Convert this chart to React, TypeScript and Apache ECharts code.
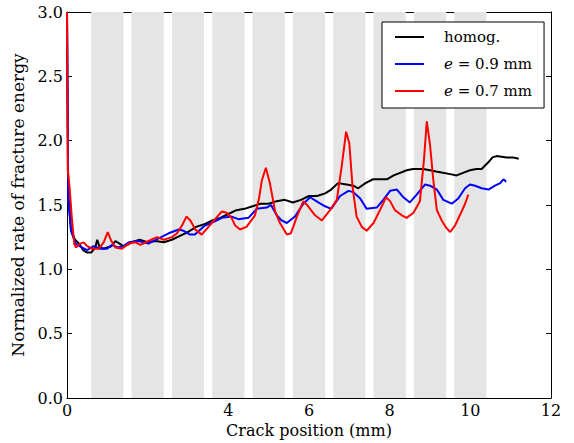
import React, { useEffect, useRef } from "react";
import * as echarts from "echarts";

const seriesNames = ["homog.", "e = 0.9 mm", "e = 0.7 mm"];
const xTitle = "Crack position (mm)";
const yTitle = "Normalized rate of fracture energy";

const homogX = [0, 0.03, 0.1, 0.2, 0.3, 0.4, 0.5, 0.6, 0.7, 0.75, 0.8, 0.9, 1.0, 1.1, 1.2, 1.3, 1.4, 1.5, 1.6, 1.8, 2.0, 2.2, 2.4, 2.6, 2.8, 3.0, 3.2, 3.4, 3.6, 3.8, 4.0, 4.2, 4.4, 4.6, 4.8, 5.0, 5.2, 5.4, 5.6, 5.8, 6.0, 6.2, 6.4, 6.55, 6.72, 6.93, 7.1, 7.22, 7.4, 7.59, 7.8, 7.93, 8.1, 8.26, 8.42, 8.58, 8.83, 9.0, 9.15, 9.32, 9.5, 9.66, 9.82, 9.99, 10.15, 10.28, 10.44, 10.55, 10.65, 10.9, 11.05, 11.2];
const homogY = [3.0, 1.6, 1.3, 1.23, 1.2, 1.15, 1.13, 1.13, 1.17, 1.23, 1.18, 1.16, 1.17, 1.18, 1.22, 1.2, 1.18, 1.19, 1.21, 1.23, 1.21, 1.22, 1.21, 1.23, 1.26, 1.29, 1.33, 1.35, 1.38, 1.4, 1.43, 1.46, 1.47, 1.49, 1.51, 1.51, 1.53, 1.54, 1.52, 1.54, 1.57, 1.57, 1.59, 1.62, 1.67, 1.66, 1.65, 1.63, 1.67, 1.7, 1.7, 1.7, 1.73, 1.75, 1.77, 1.78, 1.78, 1.77, 1.76, 1.75, 1.74, 1.73, 1.75, 1.77, 1.78, 1.78, 1.83, 1.87, 1.88, 1.87, 1.87, 1.86];

const e09X = [0, 0.03, 0.1, 0.21, 0.37, 0.5, 0.66, 0.83, 0.99, 1.12, 1.25, 1.4, 1.53, 1.78, 2.02, 2.27, 2.52, 2.77, 2.89, 3.05, 3.17, 3.42, 3.64, 3.84, 4.08, 4.25, 4.5, 4.7, 4.95, 5.06, 5.2, 5.32, 5.45, 5.65, 5.86, 6.03, 6.23, 6.4, 6.55, 6.77, 6.98, 7.1, 7.27, 7.43, 7.68, 7.84, 8.01, 8.18, 8.34, 8.5, 8.67, 8.88, 9.0, 9.17, 9.33, 9.54, 9.7, 9.87, 9.99, 10.12, 10.28, 10.45, 10.61, 10.74, 10.82, 10.89];
const e09Y = [3.0, 1.55, 1.3, 1.2, 1.17, 1.15, 1.18, 1.16, 1.16, 1.19, 1.17, 1.18, 1.21, 1.22, 1.2, 1.24, 1.28, 1.31, 1.3, 1.27, 1.27, 1.34, 1.37, 1.4, 1.41, 1.39, 1.4, 1.47, 1.48, 1.5, 1.42, 1.38, 1.36, 1.41, 1.51, 1.56, 1.52, 1.49, 1.47, 1.57, 1.61, 1.6, 1.55, 1.47, 1.48, 1.54, 1.61, 1.62, 1.56, 1.52, 1.58, 1.66, 1.65, 1.62, 1.54, 1.51, 1.55, 1.63, 1.66, 1.65, 1.63, 1.62, 1.65, 1.67, 1.7, 1.68];

const e07X = [0, 0.02, 0.06, 0.12, 0.18, 0.22, 0.33, 0.41, 0.5, 0.62, 0.79, 0.91, 1.01, 1.1, 1.2, 1.36, 1.53, 1.7, 1.82, 2.02, 2.23, 2.4, 2.6, 2.73, 2.85, 2.96, 3.06, 3.18, 3.34, 3.59, 3.84, 3.96, 4.08, 4.17, 4.29, 4.45, 4.66, 4.76, 4.83, 4.93, 5.03, 5.16, 5.28, 5.45, 5.55, 5.7, 5.86, 5.98, 6.15, 6.32, 6.52, 6.69, 6.81, 6.92, 7.0, 7.08, 7.18, 7.31, 7.43, 7.6, 7.76, 7.91, 8.01, 8.13, 8.3, 8.42, 8.59, 8.75, 8.85, 8.92, 9.0, 9.08, 9.17, 9.29, 9.41, 9.5, 9.62, 9.74, 9.87, 9.95];
const e07Y = [3.0, 1.77, 1.65, 1.4, 1.2, 1.17, 1.2, 1.21, 1.18, 1.16, 1.16, 1.21, 1.29, 1.22, 1.17, 1.16, 1.2, 1.21, 1.19, 1.22, 1.25, 1.23, 1.25, 1.28, 1.34, 1.41, 1.38, 1.31, 1.27, 1.36, 1.45, 1.44, 1.4, 1.34, 1.31, 1.33, 1.42, 1.55, 1.69, 1.79, 1.67, 1.45, 1.36, 1.27, 1.28, 1.41, 1.53, 1.49, 1.42, 1.38, 1.46, 1.54, 1.8, 2.07, 1.98, 1.64, 1.41, 1.33, 1.3, 1.36, 1.46, 1.56, 1.53, 1.46, 1.42, 1.4, 1.44, 1.53, 1.85, 2.15, 1.97, 1.7, 1.46, 1.38, 1.32, 1.29, 1.34, 1.42, 1.51, 1.58];

const bandStart = [0.6, 1.6, 2.6, 3.6, 4.6, 5.6, 6.6, 7.6, 8.6, 9.6];
const bandEnd = [1.4, 2.4, 3.4, 4.4, 5.4, 6.4, 7.4, 8.4, 9.4, 10.4];

const xTickValues = [0, 4, 6, 8, 10, 12];
const yTickValues = [0, 0.5, 1.0, 1.5, 2.0, 2.5, 3.0];

const FONT = "DejaVu Serif";

function zip(xs: number[], ys: number[]) {
  return xs.map((x, i) => [x, ys[i]]);
}

export default function App() {
  const ref = useRef<HTMLDivElement>(null);
  useEffect(() => {
    if (!ref.current) return;
    const chart = echarts.init(ref.current, undefined, { renderer: "svg" });
    const axisLine = { show: true, onZero: false, lineStyle: { color: "#000", width: 1 } };
    chart.setOption({
      animation: false,
      backgroundColor: "#fff",
      textStyle: { fontFamily: FONT, color: "#000" },
      grid: { left: 67, right: 23, top: 12, bottom: 45, containLabel: false, outerBoundsMode: "none" },
      legend: {
        data: seriesNames,
        orient: "vertical",
        left: 382,
        top: 22,
        padding: [5, 12, 7, 13],
        icon: "rect",
        itemWidth: 29,
        itemHeight: 2,
        itemGap: 7,
        backgroundColor: "#fff",
        borderColor: "#000",
        borderWidth: 1,
        borderRadius: 0,
        textStyle: {
          color: "#000",
          fontFamily: FONT,
          fontSize: 15,
          lineHeight: 20,
          padding: [0, 0, 0, 15],
          rich: {
            i: { fontStyle: "italic", fontFamily: FONT, fontSize: 15, color: "#000", lineHeight: 20 },
          },
        },
        formatter: (name: string) => (name.startsWith("e ") ? "{i|e}" + name.slice(1) : name),
      },
      xAxis: [
        {
          type: "value",
          min: 0,
          max: 12,
          interval: 2,
          position: "bottom",
          axisLine,
          axisTick: { show: true, inside: true, length: 5, customValues: xTickValues, lineStyle: { color: "#000" } },
          axisLabel: {
            margin: 4,
            customValues: xTickValues,
            color: "#000",
            fontFamily: FONT,
            fontSize: 16,
          },
          splitLine: { show: false },
          name: xTitle,
          nameLocation: "middle",
          nameGap: 19,
          nameTextStyle: { color: "#000", fontFamily: FONT, fontSize: 16 },
        },
        {
          type: "value",
          min: 0,
          max: 12,
          interval: 2,
          position: "top",
          axisLine,
          axisTick: { show: true, inside: true, length: 5, customValues: xTickValues, lineStyle: { color: "#000" } },
          axisLabel: { show: false },
          splitLine: { show: false },
        },
      ],
      yAxis: [
        {
          type: "value",
          min: 0,
          max: 3,
          interval: 0.5,
          position: "left",
          axisLine,
          axisTick: { show: true, inside: true, length: 5, lineStyle: { color: "#000" } },
          axisLabel: {
            margin: 4,
            customValues: yTickValues,
            formatter: (v: number) => v.toFixed(1),
            color: "#000",
            fontFamily: FONT,
            fontSize: 16,
          },
          splitLine: { show: false },
          name: yTitle,
          nameLocation: "middle",
          nameGap: 23,
          nameTextStyle: { color: "#000", fontFamily: FONT, fontSize: 17 },
        },
        {
          type: "value",
          min: 0,
          max: 3,
          interval: 0.5,
          position: "right",
          axisLine,
          axisTick: { show: true, inside: true, length: 5, lineStyle: { color: "#000" } },
          axisLabel: { show: false },
          splitLine: { show: false },
        },
      ],
      series: [
        {
          type: "line",
          name: "bands",
          data: [],
          z: 1,
          silent: true,
          markArea: {
            silent: true,
            itemStyle: { color: "#e5e5e5" },
            data: bandStart.map((s, i) => [{ xAxis: s }, { xAxis: bandEnd[i] }]),
          },
        },
        {
          type: "line",
          name: seriesNames[0],
          data: zip(homogX, homogY),
          symbol: "none",
          z: 3,
          lineStyle: { color: "#000", width: 2 },
          itemStyle: { color: "#000" },
        },
        {
          type: "line",
          name: seriesNames[1],
          data: zip(e09X, e09Y),
          symbol: "none",
          z: 4,
          lineStyle: { color: "#0000ff", width: 2 },
          itemStyle: { color: "#0000ff" },
        },
        {
          type: "line",
          name: seriesNames[2],
          data: zip(e07X, e07Y),
          symbol: "none",
          z: 5,
          lineStyle: { color: "#ff0000", width: 2 },
          itemStyle: { color: "#ff0000" },
        },
      ],
    });
    return () => chart.dispose();
  }, []);
  return <div ref={ref} style={{ width: 574, height: 443, position: "absolute", left: 0, top: 0 }} />;
}
